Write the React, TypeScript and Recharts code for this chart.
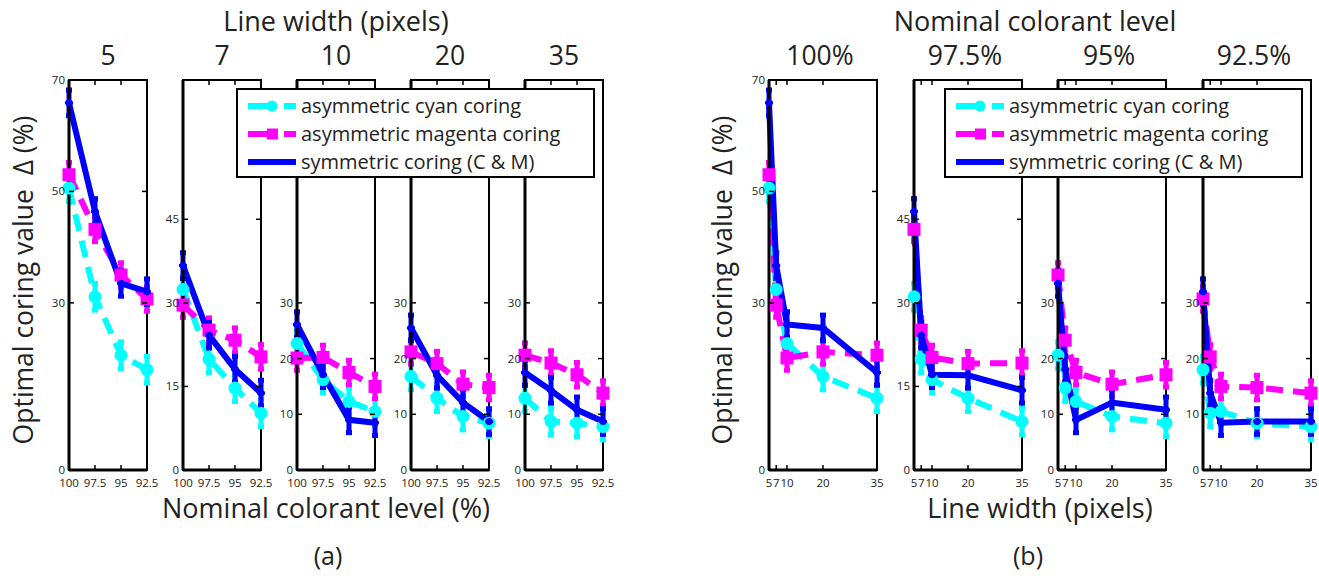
import React from 'react'
import { LineChart, Line, XAxis, YAxis, ErrorBar, ReferenceArea } from 'recharts'

// nominal colorant levels (%) and line widths (pixels)
const LEVELS = [100, 97.5, 95, 92.5]
const WIDTHS = [5, 7, 10, 20, 35]
const LEVEL_TITLES = ['100%', '97.5%', '95%', '92.5%']
const WIDTH_TITLES = ['5', '7', '10', '20', '35']

// optimal coring value, rows follow WIDTHS, columns follow LEVELS
const CYAN = [
  [50.6, 31.1, 20.6, 18.0],
  [32.4, 19.9, 14.7, 10.2],
  [22.7, 16.2, 12.3, 10.5],
  [16.8, 12.9, 9.6, 8.4],
  [12.9, 8.7, 8.4, 7.8],
]
const MAGENTA = [
  [53.0, 43.2, 35.0, 30.7],
  [29.6, 25.1, 23.3, 20.3],
  [20.1, 20.2, 17.5, 15.0],
  [21.2, 19.1, 15.4, 14.8],
  [20.6, 19.2, 17.1, 13.8],
]
const BLUE = [
  [65.9, 46.4, 33.5, 32.0],
  [36.7, 24.2, 18.1, 13.8],
  [26.1, 17.1, 9.0, 8.5],
  [25.5, 17.0, 12.1, 8.7],
  [17.5, 14.3, 10.8, 8.7],
]
const CYAN_ERR = 2.4
const MAGENTA_ERR = 2.2
const BLUE_ERR = 2.3

const Y_TICKS = [
  [0, 30, 50, 70],
  [0, 15, 30, 45],
  [0, 10, 20, 30],
  [0, 10, 20, 30],
  [0, 10, 20, 30],
]

const SERIES_NAMES = ['asymmetric cyan coring', 'asymmetric magenta coring', 'symmetric coring (C & M)']

const C_COL = '#00ffff'
const M_COL = '#ff00ff'
const B_COL = '#0000ff'
const DASH = '17 10'

const FONT = '"Open Sans", sans-serif'
const TOP = 80
const PLOT_H = 390
const A_LEFTS = [69, 183, 297, 411, 525]
const A_W = 78
const B_LEFTS = [769, 914, 1058, 1203]
const B_W = 108

function XTick(props: any) {
  const { x, y, payload } = props
  return (
    <g>
      <line x1={x} y1={y} x2={x} y2={y - 5} stroke="#000" strokeWidth={1.5} />
      <line x1={x} y1={y - PLOT_H} x2={x} y2={y - PLOT_H + 5} stroke="#000" strokeWidth={1.5} />
      <text x={x} y={y + 17} textAnchor="middle" fontSize={11.5} fill="#222" fontFamily={FONT}>
        {payload.value}
      </text>
    </g>
  )
}

function YTick(props: any) {
  const { x, y, payload, boxW } = props
  return (
    <g>
      <line x1={x} y1={y} x2={x + 5} y2={y} stroke="#000" strokeWidth={1.5} />
      <line x1={x + boxW} y1={y} x2={x + boxW - 5} y2={y} stroke="#000" strokeWidth={1.5} />
      <text x={x - 4} y={y + 4} textAnchor="end" fontSize={11.5} fill="#222" fontFamily={FONT}>
        {payload.value}
      </text>
    </g>
  )
}

function CyanDot(props: any) {
  const { cx, cy } = props
  return <circle cx={cx} cy={cy} r={6.5} fill={C_COL} />
}

function MagentaDot(props: any) {
  const { cx, cy } = props
  return <rect x={cx - 6.5} y={cy - 6.5} width={13} height={13} fill={M_COL} />
}

function BlueDot(props: any) {
  const { cx, cy } = props
  return (
    <g>
      <line x1={cx - 4} y1={cy} x2={cx + 4} y2={cy} stroke={B_COL} strokeWidth={3} />
      <circle cx={cx} cy={cy} r={3.5} fill={B_COL} />
    </g>
  )
}

interface SubplotProps {
  left: number
  boxW: number
  rows: any[]
  domain: [number, number]
  reversed: boolean
  xTicks: number[]
  yTicks: number[]
}

function Subplot({ left, boxW, rows, domain, reversed, xTicks, yTicks }: SubplotProps) {
  const yw = 35
  const rm = 22
  return (
    <div style={{ position: 'absolute', left: left - yw, top: TOP - 20 }}>
      <LineChart width={yw + boxW + rm} height={PLOT_H + 50} data={rows} margin={{ top: 20, right: rm, bottom: 0, left: 0 }}>
        <ReferenceArea x1={domain[0]} x2={domain[1]} y1={0} y2={70} fill="none" stroke="#000" strokeWidth={2} />
        <XAxis
          dataKey="x"
          type="number"
          domain={domain}
          reversed={reversed}
          ticks={xTicks}
          interval={0}
          height={30}
          tickSize={0}
          tickMargin={0}
          tickLine={false}
          axisLine={{ stroke: '#000', strokeWidth: 3 }}
          tick={<XTick />}
        />
        <YAxis
          type="number"
          domain={[0, 70]}
          ticks={yTicks}
          interval={0}
          width={yw}
          tickSize={0}
          tickMargin={0}
          tickLine={false}
          axisLine={{ stroke: '#000', strokeWidth: 3 }}
          tick={<YTick boxW={boxW} />}
        />
        <Line dataKey="c" type="linear" stroke={C_COL} strokeWidth={6} strokeDasharray={DASH} dot={<CyanDot />} activeDot={false} isAnimationActive={false}>
          <ErrorBar dataKey="ce" direction="y" width={3} strokeWidth={5} stroke={C_COL} isAnimationActive={false} />
        </Line>
        <Line dataKey="m" type="linear" stroke={M_COL} strokeWidth={6} strokeDasharray={DASH} dot={<MagentaDot />} activeDot={false} isAnimationActive={false}>
          <ErrorBar dataKey="me" direction="y" width={3} strokeWidth={5} stroke={M_COL} isAnimationActive={false} />
        </Line>
        <Line dataKey="b" type="linear" stroke={B_COL} strokeWidth={6} dot={<BlueDot />} activeDot={false} isAnimationActive={false}>
          <ErrorBar dataKey="be" direction="y" width={3} strokeWidth={5} stroke={B_COL} isAnimationActive={false} />
        </Line>
      </LineChart>
    </div>
  )
}

function LegendBox({ left }: { left: number }) {
  const rows = [
    { color: C_COL, dash: '24 12', mark: 'circle' },
    { color: M_COL, dash: '24 12', mark: 'square' },
    { color: B_COL, dash: undefined, mark: 'none' },
  ]
  return (
    <div
      style={{
        position: 'absolute',
        left,
        top: 88,
        width: 359,
        height: 90,
        boxSizing: 'border-box',
        border: '2px solid #000',
        background: '#fff',
      }}
    >
      <svg width={355} height={86}>
        {rows.map((r, i) => {
          const cy = 16 + i * 28
          return (
            <g key={i}>
              <line x1={10} y1={cy} x2={58} y2={cy} stroke={r.color} strokeWidth={6} strokeDasharray={r.dash} />
              {r.mark === 'circle' && <circle cx={34} cy={cy} r={5.5} fill={r.color} />}
              {r.mark === 'square' && <rect x={29} y={cy - 5.5} width={11} height={11} fill={r.color} />}
              <text x={63} y={cy + 7} fontSize={20} fill="#222" fontFamily={FONT}>
                {SERIES_NAMES[i]}
              </text>
            </g>
          )
        })}
      </svg>
    </div>
  )
}

function rowsForWidth(i: number) {
  return LEVELS.map((lv, j) => ({
    x: lv,
    c: CYAN[i][j],
    m: MAGENTA[i][j],
    b: BLUE[i][j],
    ce: CYAN_ERR,
    me: MAGENTA_ERR,
    be: BLUE_ERR,
  }))
}

function rowsForLevel(j: number) {
  return WIDTHS.map((w, i) => ({
    x: w,
    c: CYAN[i][j],
    m: MAGENTA[i][j],
    b: BLUE[i][j],
    ce: CYAN_ERR,
    me: MAGENTA_ERR,
    be: BLUE_ERR,
  }))
}

export default function App() {
  const txt = { fontFamily: FONT, fill: '#222' }
  return (
    <div style={{ position: 'absolute', left: 0, top: 0, width: 1319, height: 576, background: '#fff', overflow: 'hidden' }}>
      <svg width={1319} height={576} style={{ position: 'absolute', left: 0, top: 0 }}>
        {/* (a) titles */}
        <text x={336} y={31} textAnchor="middle" fontSize={27} {...txt}>Line width (pixels)</text>
        {WIDTH_TITLES.map((t, i) => (
          <text key={t} x={A_LEFTS[i] + A_W / 2} y={65} textAnchor="middle" fontSize={26.5} {...txt}>{t}</text>
        ))}
        <text x={326} y={518} textAnchor="middle" fontSize={27} {...txt}>Nominal colorant level (%)</text>
        <text x={328} y={565} textAnchor="middle" fontSize={25} {...txt}>(a)</text>
        <text transform="translate(33,280) rotate(-90)" textAnchor="middle" fontSize={26.5} {...txt}>
          {'Optimal coring value \u00a0\u0394 (%)'}
        </text>

        {/* (b) titles */}
        <text x={1035} y={31} textAnchor="middle" fontSize={27} {...txt}>Nominal colorant level</text>
        {LEVEL_TITLES.map((t, j) => (
          <text key={t} x={B_LEFTS[j] + B_W / 2 - 3} y={65} textAnchor="middle" fontSize={26.5} {...txt}>{t}</text>
        ))}
        <text x={1040} y={518} textAnchor="middle" fontSize={27} {...txt}>Line width (pixels)</text>
        <text x={1028} y={565} textAnchor="middle" fontSize={25} {...txt}>(b)</text>
        <text transform="translate(732,280) rotate(-90)" textAnchor="middle" fontSize={26.5} {...txt}>
          {'Optimal coring value \u00a0\u0394 (%)'}
        </text>
      </svg>

      {WIDTHS.map((_, i) => (
        <Subplot
          key={'a' + i}
          left={A_LEFTS[i]}
          boxW={A_W}
          rows={rowsForWidth(i)}
          domain={[92.5, 100]}
          reversed
          xTicks={LEVELS}
          yTicks={Y_TICKS[i]}
        />
      ))}
      {LEVELS.map((_, j) => (
        <Subplot
          key={'b' + j}
          left={B_LEFTS[j]}
          boxW={B_W}
          rows={rowsForLevel(j)}
          domain={[5, 35]}
          reversed={false}
          xTicks={WIDTHS}
          yTicks={Y_TICKS[j]}
        />
      ))}

      <LegendBox left={236} />
      <LegendBox left={944} />
    </div>
  )
}
